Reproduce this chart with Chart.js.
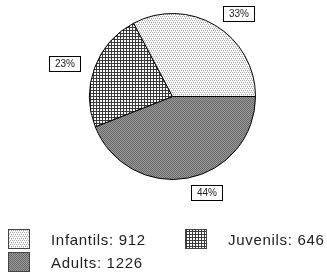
<!DOCTYPE html>
<html lang="en">
<head>
    <meta charset="UTF-8">
    <title>Age groups</title>
    <style>
        html, body { margin: 0; padding: 0; background: #fff; }
        #wrap { position: relative; width: 327px; height: 272px; }
    </style>
    <script src="https://cdn.jsdelivr.net/npm/chart.js"></script>
</head>
<body>
    <div id="wrap">
        <canvas id="pieChart" width="327" height="272"></canvas>
    </div>

    <script>
        // data, in the order the original legend lists them
        const categories = ['Infantils', 'Juvenils', 'Adults'];
        const values = [912, 646, 1226];
        const fillKinds = ['dots', 'grid', 'dark'];

        const total = values.reduce((a, b) => a + b, 0);

        function makePattern(kind) {
            const tile = document.createElement('canvas');
            const c = tile.getContext('2d');
            if (kind === 'dots') {
                tile.width = 4; tile.height = 4;
                c.fillStyle = '#ffffff'; c.fillRect(0, 0, 4, 4);
                c.fillStyle = '#a8a8a8';
                c.fillRect(0, 0, 1, 1); c.fillRect(2, 0, 1, 1);
                c.fillRect(1, 2, 1, 1); c.fillRect(3, 2, 1, 1);
                c.fillStyle = '#dcdcdc';
                c.fillRect(1, 1, 1, 1); c.fillRect(3, 3, 1, 1);
            } else if (kind === 'grid') {
                tile.width = 3; tile.height = 3;
                c.fillStyle = '#ffffff'; c.fillRect(0, 0, 3, 3);
                c.fillStyle = '#3a3a3a';
                c.fillRect(0, 0, 3, 1); c.fillRect(0, 0, 1, 3);
            } else {
                tile.width = 2; tile.height = 2;
                c.fillStyle = '#9c9c9c'; c.fillRect(0, 0, 2, 2);
                c.fillStyle = '#666666';
                c.fillRect(0, 0, 1, 1); c.fillRect(1, 1, 1, 1);
            }
            const ctx = document.createElement('canvas').getContext('2d');
            return ctx.createPattern(tile, 'repeat');
        }

        const fills = fillKinds.map(makePattern);

        // original draws counter-clockwise from 3 o'clock; Chart.js goes clockwise,
        // so feed it the reversed order with the same start
        const chartLabels = categories.slice().reverse();
        const chartValues = values.slice().reverse();
        const chartFills = fills.slice().reverse();

        const labelFont = '10px "Liberation Sans", Arial, sans-serif';
        const legendFont = '15px "Liberation Sans", Arial, sans-serif';

        const pctLabels = {
            id: 'pctLabels',
            afterDatasetsDraw(chart) {
                const ctx = chart.ctx;
                const meta = chart.getDatasetMeta(0);
                ctx.save();
                ctx.font = labelFont;
                ctx.textBaseline = 'middle';
                meta.data.forEach((arc, i) => {
                    const p = arc.getProps(['x', 'y', 'startAngle', 'endAngle', 'outerRadius'], true);
                    const mid = (p.startAngle + p.endAngle) / 2;
                    const d = p.outerRadius * 1.17;
                    const ax = p.x + Math.cos(mid) * d;
                    const ay = p.y + Math.sin(mid) * d;
                    const txt = Math.round(chartValues[i] / total * 100) + '%';
                    const w = Math.round(ctx.measureText(txt).width) + 12;
                    const h = 16;
                    const left = Math.round(Math.cos(mid) >= 0 ? ax : ax - w);
                    const top = Math.round(ay - h / 2 + 1);
                    ctx.fillStyle = '#fff';
                    ctx.fillRect(left, top, w, h);
                    ctx.strokeStyle = '#000';
                    ctx.lineWidth = 1;
                    ctx.strokeRect(left + 0.5, top + 0.5, w - 1, h - 1);
                    ctx.fillStyle = '#222';
                    ctx.textAlign = 'center';
                    ctx.fillText(txt, left + w / 2, top + h / 2 + 0.5);
                });
                ctx.restore();
            }
        };

        const gridLegend = {
            id: 'gridLegend',
            afterDraw(chart) {
                const ctx = chart.ctx;
                const colX = [8, 185];
                const rowY = [229, 252];
                ctx.save();
                ctx.font = legendFont;
                ctx.letterSpacing = '0.7px';
                ctx.textBaseline = 'alphabetic';
                ctx.textAlign = 'left';
                categories.forEach((name, i) => {
                    const x = colX[i % 2];
                    const y = rowY[Math.floor(i / 2)];
                    ctx.fillStyle = fills[i];
                    ctx.fillRect(x, y, 22, 20);
                    ctx.strokeStyle = '#444';
                    ctx.lineWidth = 1;
                    ctx.strokeRect(x + 0.5, y + 0.5, 21, 19);
                    ctx.fillStyle = '#222';
                    ctx.fillText(name + ': ' + values[i], x + 43, y + 16);
                });
                ctx.restore();
            }
        };

        new Chart(document.getElementById('pieChart').getContext('2d'), {
            type: 'pie',
            data: {
                labels: chartLabels,
                datasets: [{
                    data: chartValues,
                    backgroundColor: chartFills,
                    borderColor: '#000',
                    borderWidth: 1
                }]
            },
            options: {
                responsive: false,
                animation: false,
                rotation: 90,
                layout: { padding: { left: 89, top: 13, right: 71, bottom: 92 } },
                plugins: {
                    legend: { display: false },
                    tooltip: { enabled: false }
                }
            },
            plugins: [pctLabels, gridLegend]
        });
    </script>
</body>
</html>
